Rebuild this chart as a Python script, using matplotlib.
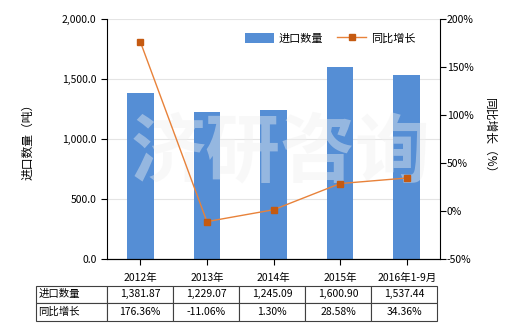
import matplotlib.pyplot as plt
from matplotlib.ticker import FuncFormatter, MultipleLocator

plt.rcParams['font.family'] = ['Noto Sans CJK SC', 'DejaVu Sans']

categories = ["2012年", "2013年", "2014年", "2015年", "2016年1-9月"]
import_qty = [1381.87, 1229.07, 1245.09, 1600.90, 1537.44]
yoy_growth = [176.36, -11.06, 1.30, 28.58, 34.36]
qty_labels = ["1,381.87", "1,229.07", "1,245.09", "1,600.90", "1,537.44"]
growth_labels = ["176.36%", "-11.06%", "1.30%", "28.58%", "34.36%"]

bar_color = "#558ED5"
line_color = "#E8823A"
marker_color = "#C55A11"

fig = plt.figure(figsize=(5.2, 3.3), dpi=100)
ax = fig.add_axes([107/520, 1 - 259/330, 333/520, 240/330])
ax2 = ax.twinx()

x = range(len(categories))
ax.bar(x, import_qty, width=0.4, color=bar_color, zorder=2, label="进口数量")
ax.set_xlim(-0.5, 4.5)
ax.set_ylim(0, 2000)
ax.yaxis.set_major_locator(MultipleLocator(500))
ax.yaxis.set_major_formatter(FuncFormatter(lambda v, p: "{:,.1f}".format(v)))
ax.grid(axis="y", color="#e4e4e4", linewidth=0.8, zorder=0)
ax.set_axisbelow(True)
ax.set_xticks(list(x))
ax.set_xticklabels(categories)
ax.tick_params(axis="both", labelsize=7.5, length=4, width=0.8, color="black")
ax.tick_params(axis="x", pad=6)
ax.spines["top"].set_visible(False)
ax.spines["right"].set_visible(False)
ax.set_ylabel("进口数量（吨）", fontsize=8.5, labelpad=20)

ax2.plot(x, yoy_growth, color=line_color, linewidth=1, marker="s", markersize=4,
         markerfacecolor=marker_color, markeredgecolor=marker_color, zorder=3,
         label="同比增长")
ax2.set_ylim(-50, 200)
ax2.yaxis.set_major_locator(MultipleLocator(50))
ax2.yaxis.set_major_formatter(FuncFormatter(lambda v, p: "{:.0f}%".format(v)))
ax2.tick_params(axis="y", labelsize=7.5, length=4, width=0.8, pad=1)
ax2.spines["top"].set_visible(False)
ax2.spines["left"].set_visible(False)
ax2.set_ylabel("同比增长（%）", fontsize=8.5, rotation=270, labelpad=16)

# watermark
ax2.text(0.52, 0.44, "济研咨询", transform=ax.transAxes, fontsize=54,
         color="#f0f0f0", alpha=0.42, ha="center", va="center", zorder=1,
         fontweight="bold")

h1, l1 = ax.get_legend_handles_labels()
h2, l2 = ax2.get_legend_handles_labels()
ax2.legend(h1 + h2, l1 + l2, loc="center", bbox_to_anchor=(0.67, 0.92), ncol=2,
           frameon=False, fontsize=8, handlelength=2.6, handleheight=1.1,
           columnspacing=1.3, handletextpad=0.4)

# data table under the chart
cell_text = [["进口数量"] + qty_labels, ["同比增长"] + growth_labels]
col_w = [71] + [66] * 5
tbl = ax.table(cellText=cell_text, colWidths=[w / sum(col_w) for w in col_w],
               bbox=[(36 - 107) / 333, -0.257, sum(col_w) / 333, 0.146],
               cellLoc="center")
tbl.auto_set_font_size(False)
tbl.set_fontsize(7.5)
for (r, c), cell in tbl.get_celld().items():
    cell.set_edgecolor("#404040")
    cell.set_linewidth(0.8)
    if c == 0:
        cell.set_text_props(ha="left")
        cell._loc = "left"
        cell.PAD = 0.03

fig.savefig("out.png", dpi=100)
